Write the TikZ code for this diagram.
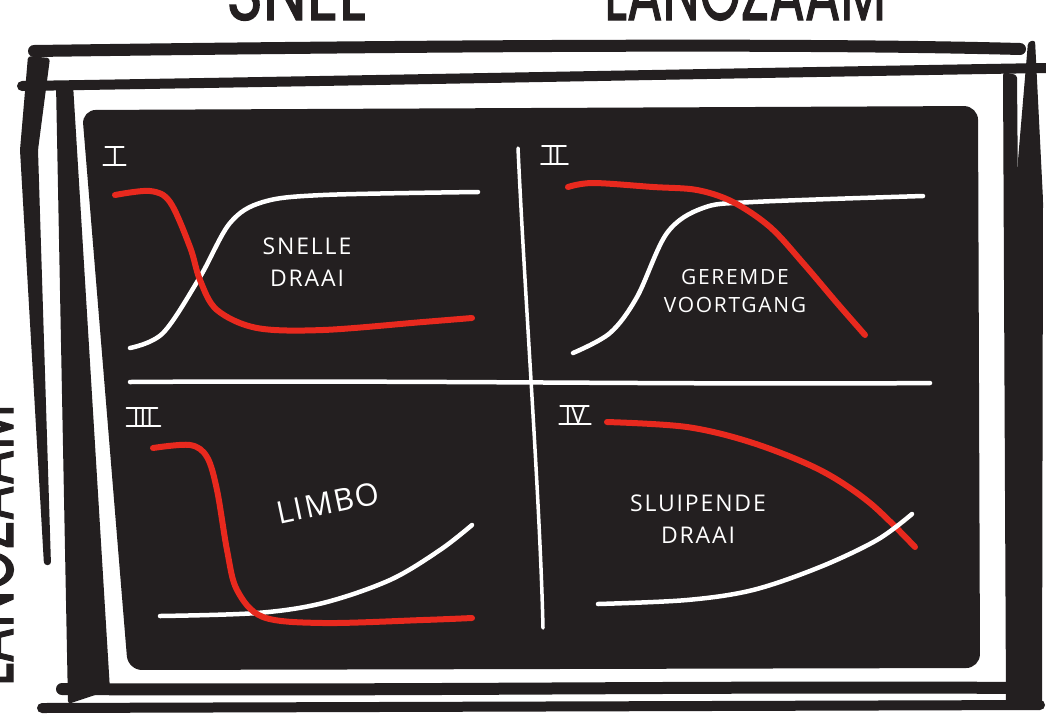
\documentclass[tikz,border=0pt]{standalone}
\usepackage{graphicx}
\usepackage{fontspec}
\newfontfamily\handfont{Open Sans}
\newfontfamily\topfont{Poppins}[FakeBold=1.6]
\definecolor{ink}{HTML}{231F20}
\definecolor{redc}{HTML}{E8291E}
\begin{document}
\begin{tikzpicture}[x=1pt,y=-1pt,
  inkline/.style={draw=ink, line cap=round, line join=round},
  redcurve/.style={draw=redc, line width=6pt, line cap=round, line join=round},
  whitecurve/.style={draw=white, line width=4.5pt, line cap=round, line join=round},
  label/.style={text=white, font=\handfont\fontsize{23}{32}\selectfont\addfontfeature{LetterSpace=8}, align=center, inner sep=0pt},
  numeral/.style={text=white, font=\handfont\fontsize{24}{24}\selectfont, inner sep=0pt},
  bar/.style={draw=white, line width=2.2pt, line cap=round},
  axis/.style={text=ink, font=\topfont\fontsize{80}{80}\selectfont, inner sep=0pt},
  divider/.style={draw=white, line cap=round}]
\path[use as bounding box] (0,0) rectangle (1046,721);
\clip (0,0) rectangle (1046,721);
\fill[white] (0,0) rectangle (1046,721);

% axis texts (cut off by the page edge)
\node[axis, anchor=base] (snel) at (296,20) {\scalebox{0.78}[1]{SNEL}};
\node[axis, anchor=base] (langzaam) at (745,20) {\scalebox{0.66}[1]{LANGZAAM}};
\node[axis, anchor=base, rotate=90] (langzaamL) at (13,545) {\scalebox{0.66}[1]{LANGZAAM}};
\node[axis, anchor=base, rotate=90] (snelL) at (-9,225) {\scalebox{0.78}[1]{SNEL}};

% sketchy frame
\draw[inkline, line width=12pt] (34,51) .. controls (400,46) and (800,43) .. (1020,49);
\draw[inkline, line width=10pt] (22,86) .. controls (400,80) and (800,72) .. (1046,68);
\fill[ink, rounded corners=3pt] (28,56) -- (50,58) -- (38,150) -- (51,565) -- (44,565) -- (20,150) -- cycle;
\fill[ink, rounded corners=3pt] (56,84) -- (73,84) -- (110,690) -- (68,704) -- cycle;
\fill[ink, rounded corners=3pt] (1003,72) -- (1017,75) -- (1022,700) -- (1006,705) -- cycle;
\fill[ink, rounded corners=3pt] (1028,42) -- (1035,40) -- (1043,200) -- (1042,706) -- (1015,706) -- (1018,160) -- cycle;
\draw[inkline, line width=12pt] (62,689) .. controls (400,691) and (700,686) .. (1030,688);
\draw[inkline, line width=10pt] (42,708) -- (1040,705);

% dark panel
\fill[ink, rounded corners=14pt] (82,110) -- (978,106) -- (980,668) -- (128,670) -- cycle;

% dividers
\draw[divider, line width=3.5pt] (518,148) .. controls (525,300) and (540,500) .. (543,628);
\draw[divider, line width=4.5pt] (130,382) .. controls (400,380) and (700,385) .. (930,383);

% numerals
\node[numeral] (n1) at (115,156) {I};
\draw[bar] ([xshift=-6pt]n1.north west) -- ([xshift=5pt]n1.north east);
\draw[bar] ([xshift=-8pt]n1.south west) -- ([xshift=7pt]n1.south east);
\node[numeral] (n2) at (554,155) {II};
\draw[bar] ([xshift=-5pt]n2.north west) -- ([xshift=5pt]n2.north east);
\draw[bar] ([xshift=-6pt]n2.south west) -- ([xshift=7pt]n2.south east);
\node[numeral] (n3) at (143,417) {III};
\draw[bar] ([xshift=-6pt]n3.north west) -- ([xshift=4pt]n3.north east);
\draw[bar] ([xshift=-6pt]n3.south west) -- ([xshift=7pt]n3.south east);
\node[numeral] (n4) at (575,415) {IV};
\draw[bar] ([xshift=-4pt]n4.north west) -- ([xshift=3pt]n4.north east);
\draw[bar] ([xshift=-5pt]n4.south west) -- ([xshift=5pt]n4.south east);

% panel I
\draw[whitecurve] plot[smooth, tension=0.55] coordinates {(130,348) (163,333) (200,277) (230,223) (263,202) (323,195) (478,192)};
\draw[redcurve] plot[smooth, tension=0.55] coordinates {(115,195) (150,191) (170,202) (190,247) (200,280) (217,310) (257,328) (323,330) (423,322) (472,318)};
\node[label] (t1) at (307,262) {SNELLE\\DRAAI};

% panel II
\draw[whitecurve] plot[smooth, tension=0.55] coordinates {(573,353) (610,333) (637,297) (667,233) (703,208) (753,202) (923,196)};
\draw[redcurve] plot[smooth, tension=0.55] coordinates {(568,187) (593,183) (653,187) (697,190) (733,202) (770,227) (803,263) (837,303) (865,335)};
\node[label, font=\handfont\fontsize{21}{28}\selectfont\addfontfeature{LetterSpace=8}] (t2) at (735,291) {GEREMDE\\VOORTGANG};

% panel III
\draw[whitecurve] plot[smooth, tension=0.55] coordinates {(160,616) (257,613) (323,603) (390,580) (440,550) (472,525)};
\draw[redcurve] plot[smooth, tension=0.55] coordinates {(153,448) (190,445) (207,457) (217,490) (227,550) (237,590) (263,617) (323,623) (423,620) (472,618)};
\node[label, rotate=12, font=\handfont\fontsize{31}{31}\selectfont\addfontfeature{LetterSpace=6}] (t3) at (328,503) {LIMBO};

% panel IV
\draw[redcurve] plot[smooth, tension=0.55] coordinates {(607,422) (687,427) (753,443) (820,470) (870,503) (915,547)};
\draw[whitecurve] plot[smooth, tension=0.55] coordinates {(598,604) (687,600) (753,590) (820,567) (877,540) (912,514)};
\node[label] (t4) at (698,519) {SLUIPENDE\\DRAAI};
\end{tikzpicture}
\end{document}
